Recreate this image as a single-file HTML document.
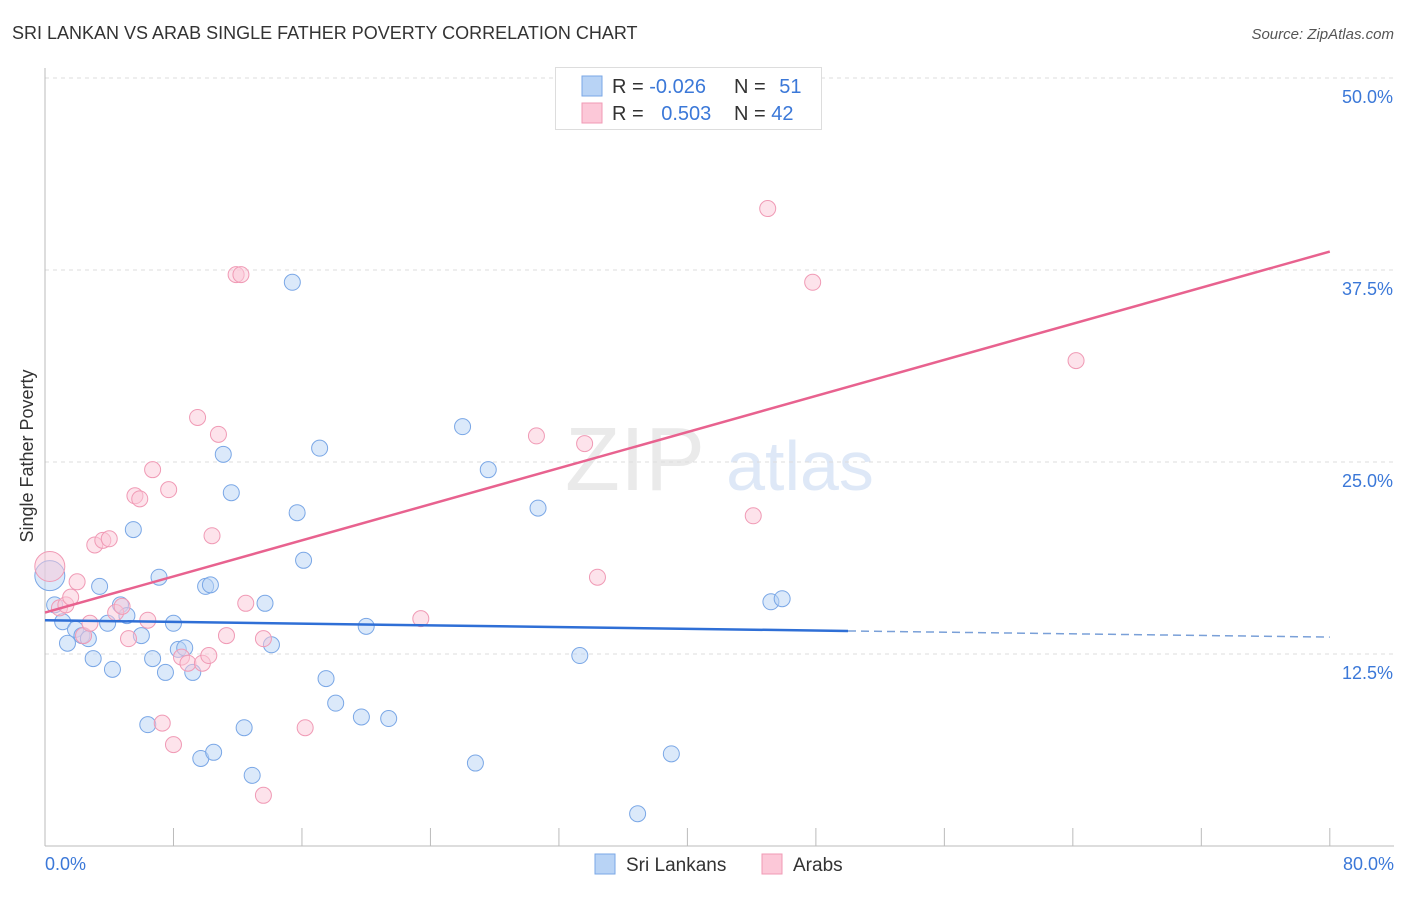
<!DOCTYPE html>
<html><head><meta charset="utf-8"><style>
body{margin:0;background:#fff;font-family:"Liberation Sans",sans-serif}
svg text{font-family:"Liberation Sans",sans-serif}
</style></head><body>
<svg id="c" width="1406" height="892" xmlns="http://www.w3.org/2000/svg">
<text x="12" y="39" font-size="18" fill="#333">SRI LANKAN VS ARAB SINGLE FATHER POVERTY CORRELATION CHART</text>
<text x="1394" y="39" font-size="15" fill="#555" text-anchor="end" font-style="italic">Source: ZipAtlas.com</text>
<text x="33" y="456" font-size="18" fill="#333" text-anchor="middle" transform="rotate(-90 33 456)">Single Father Poverty</text>
<g><text x="635" y="490" font-size="90" fill="#ddd" text-anchor="middle" font-family="Liberation Serif" opacity="0.6">ZIP</text><text x="800" y="490" font-size="70" fill="#c9daf2" text-anchor="middle" opacity="0.6">atlas</text></g>
<g id="grid"></g><g id="axes"></g><g id="pts"></g><g id="trend"></g>
<g>
<rect x="555.5" y="67.5" width="266" height="62" fill="#fff" stroke="#ddd"/>
<rect x="582" y="76" width="20" height="20" fill="#b8d3f5" stroke="#7aa7e6"/>
<rect x="582" y="103" width="20" height="20" fill="#fcc8d8" stroke="#f09ab5"/>
<text x="612" y="93" font-size="20" fill="#333">R = <tspan fill="#3b78d8">-0.026</tspan></text>
<text x="734" y="93" font-size="20" fill="#333">N = <tspan fill="#3b78d8" dx="8">51</tspan></text>
<text x="612" y="120" font-size="20" fill="#333">R = <tspan fill="#3b78d8" dx="12">0.503</tspan></text>
<text x="734" y="120" font-size="20" fill="#333">N = <tspan fill="#3b78d8">42</tspan></text>
</g>
<g>
<rect x="595" y="854" width="20" height="20" fill="#b8d3f5" stroke="#7aa7e6"/>
<text x="626" y="871" font-size="19" fill="#333">Sri Lankans</text>
<rect x="762" y="854" width="20" height="20" fill="#fcc8d8" stroke="#f09ab5"/>
<text x="793" y="871" font-size="19" fill="#333">Arabs</text>
</g>
</svg>
<script>
const yTicks=[12.5,25,37.5,50];
const yTickLabels=["12.5%","25.0%","37.5%","50.0%"];
const xTickVals=[0,8,16,24,32,40,48,56,64,72,80];
const blueX=[0.3,0.6,1.1,1.4,1.9,2.3,2.7,3.0,3.4,3.9,4.2,4.7,5.1,5.5,6.0,6.4,6.7,7.1,7.5,8.0,8.3,8.7,9.2,9.7,10.0,10.3,10.5,11.1,11.6,12.4,12.9,13.7,14.1,15.4,15.7,16.1,17.1,17.5,18.1,19.7,20.0,21.4,26.0,26.8,27.6,30.7,33.3,36.9,39.0,45.2,45.9];
const blueY=[17.6,15.7,14.6,13.2,14.1,13.7,13.5,12.2,16.9,14.5,11.5,15.7,15.0,20.6,13.7,7.9,12.2,17.5,11.3,14.5,12.8,12.9,11.3,5.7,16.9,17.0,6.1,25.5,23.0,7.7,4.6,15.8,13.1,36.7,21.7,18.6,25.9,10.9,9.3,8.4,14.3,8.3,27.3,5.4,24.5,22.0,12.4,2.1,6.0,15.9,16.1];
const pinkX=[0.3,0.9,1.3,1.6,2.0,2.4,2.8,3.1,3.6,4.0,4.4,4.8,5.2,5.6,5.9,6.4,6.7,7.3,7.7,8.0,8.5,8.9,9.5,9.8,10.2,10.4,10.8,11.3,11.9,12.2,12.5,13.6,13.6,16.2,23.4,30.6,33.6,34.4,44.1,45.0,47.8,64.2];
const pinkY=[18.2,15.5,15.7,16.2,17.2,13.7,14.5,19.6,19.9,20.0,15.2,15.6,13.5,22.8,22.6,14.7,24.5,8.0,23.2,6.6,12.3,11.9,27.9,11.9,12.4,20.2,26.8,13.7,37.2,37.2,15.8,13.5,3.3,7.7,14.8,26.7,26.2,17.5,21.5,41.5,36.7,31.6];
const blueTrend=[14.7,14.0,13.6];const blueTrendX=[0,50,80];
const pinkTrend=[15.2,38.7];const pinkTrendX=[0,80];
const NS="http://www.w3.org/2000/svg";
const X=v=>45+v*16.06, Y=v=>846-v*15.36;
function mk(t,a,p){const e=document.createElementNS(NS,t);for(const k in a)e.setAttribute(k,a[k]);p.appendChild(e);return e;}
const grid=document.getElementById('grid'),axes=document.getElementById('axes'),pts=document.getElementById('pts'),tr=document.getElementById('trend');
yTicks.forEach((t,i)=>{
 const l=mk('line',{x1:45,x2:1394,y1:Y(t),y2:Y(t),stroke:'#ddd','stroke-dasharray':'4,4'},grid);
 
 
 const tx=mk('text',{x:1393,y:Y(t)+25,'font-size':18,fill:'#3b78d8','text-anchor':'end'},axes);
 tx.textContent=yTickLabels[i];
 
 
});
const ax=mk('line',{x1:45,x2:1394,y1:846,y2:846,stroke:'#bbb'},axes);


const ay=mk('line',{x1:45,x2:45,y1:68,y2:846,stroke:'#bbb'},axes);


xTickVals.forEach(v=>{
 const t=mk('line',{x1:X(v),x2:X(v),y1:828,y2:846,stroke:'#bbb'},axes);
 
 
});
[["0.0%",45,'start'],["80.0%",1394,'end']].forEach(a=>{
 const t=mk('text',{x:a[1],y:870,'font-size':18,fill:'#3b78d8','text-anchor':a[2]},axes);t.textContent=a[0];
 
 
});
function dots(xs,ys,fill,stroke,name){xs.forEach((x,i)=>{
 const c=mk('circle',{cx:X(x),cy:Y(ys[i]),r:(i===0?15:8),fill:fill,'fill-opacity':0.5,stroke:stroke,'stroke-width':1},pts);
 
 
});}
dots(blueX,blueY,'#b8d3f5','#7aa7e6','sri-lankan-point');
dots(pinkX,pinkY,'#fcc8d8','#f09ab5','arab-point');
const b1=mk('line',{x1:X(blueTrendX[0]),y1:Y(blueTrend[0]),x2:X(blueTrendX[1]),y2:Y(blueTrend[1]),stroke:'#2f6fd6','stroke-width':2.5},tr);


const b2=mk('line',{x1:X(blueTrendX[1]),y1:Y(blueTrend[1]),x2:X(blueTrendX[2]),y2:Y(blueTrend[2]),stroke:'#7aa0d8','stroke-width':1.5,'stroke-dasharray':'8,5'},tr);


const p1=mk('line',{x1:X(pinkTrendX[0]),y1:Y(pinkTrend[0]),x2:X(pinkTrendX[1]),y2:Y(pinkTrend[1]),stroke:'#e8628f','stroke-width':2.5},tr);


</script>
</body></html>
